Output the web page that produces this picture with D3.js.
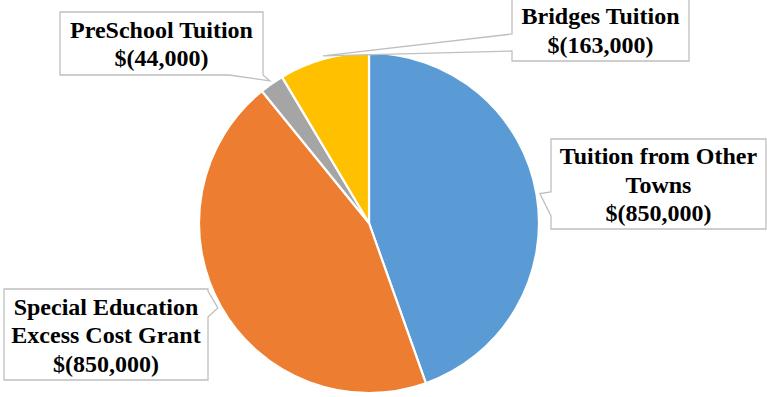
<!DOCTYPE html>
<html>
<head>
<meta charset="utf-8">
<script src="https://cdn.jsdelivr.net/npm/d3@7"></script>
<style>
  html, body { margin: 0; padding: 0; background: #fff; }
  svg { display: block; }
</style>
</head>
<body>
<script>
// ---- data ----
const categories = ["Tuition from Other Towns", "Special Education Excess Cost Grant", "PreSchool Tuition", "Bridges Tuition"];
const values = [850000, 850000, 44000, 163000];
const colors = ["#5B9BD5", "#ED7D31", "#A5A5A5", "#FFC000"];
const labelLines = [["Tuition from Other", "Towns"], ["Special Education", "Excess Cost Grant"], ["PreSchool Tuition"], ["Bridges Tuition"]];

// ---- layout (label callout boxes) ----
const callouts = [
  {x: 551, y: 139, w: 215, h: 90, edge: "left", a: 216, b: 192},
  {x: 4, y: 289, w: 204, h: 91, edge: "right", a: 291, b: 317},
  {x: 60, y: 12, w: 203, h: 63, edge: "bottom", a: 263, b: 229},
  {x: 512, y: -1, w: 177, h: 62, edge: "left", a: 51, b: 34}
];

const W = 767, H = 397;
const cx = 369, cy = 223, R = 170;
const fontSize = 24, lineH = 28.5;

const svg = d3.select("body").append("svg").attr("width", W).attr("height", H);

const data = categories.map((c, i) => ({cat: c, value: values[i], i}));
const pie = d3.pie().sort(null).value(d => d.value);
const arcs = pie(data);
const arc = d3.arc().innerRadius(0).outerRadius(R);
const color = d3.scaleOrdinal().domain(categories).range(colors);

const g = svg.append("g").attr("transform", `translate(${cx},${cy})`);
g.selectAll("path").data(arcs).join("path")
  .attr("d", arc)
  .attr("fill", d => color(d.data.cat))
  .attr("stroke", "#fff")
  .attr("stroke-width", 2.2)
  .attr("stroke-linejoin", "round");

function calloutPath(c, tip) {
  const x0 = c.x, y0 = c.y, x1 = c.x + c.w, y1 = c.y + c.h;
  const p = [[x0, y0], [x1, y0]];
  if (c.edge === "right") p.push([x1, c.a], tip, [x1, c.b]);
  p.push([x1, y1]);
  if (c.edge === "bottom") p.push([c.a, y1], tip, [c.b, y1]);
  p.push([x0, y1]);
  if (c.edge === "left") p.push([x0, c.a], tip, [x0, c.b]);
  return "M" + p.map(q => q.join(",")).join("L") + "Z";
}

const fmt = d3.format(",");
const labels = svg.append("g");
arcs.forEach((d, i) => {
  const c = callouts[i];
  const mid = (d.startAngle + d.endAngle) / 2;
  const rr = R * 1.02;
  const tip = [cx + rr * Math.sin(mid), cy - rr * Math.cos(mid)];
  labels.append("path")
    .attr("d", calloutPath(c, tip))
    .attr("fill", "#fff")
    .attr("stroke", "#BFBFBF")
    .attr("stroke-width", 1.3);
  const lines = labelLines[i].concat(["$(" + fmt(d.data.value) + ")"]);
  const n = lines.length;
  const centerY = c.y + c.h / 2;
  const first = centerY - (n - 1) * lineH / 2 + 8.5;
  const t = labels.append("text")
    .attr("text-anchor", "middle")
    .attr("font-family", "'Liberation Serif', 'Times New Roman', serif")
    .attr("font-weight", "bold")
    .attr("font-size", fontSize)
    .attr("fill", "#000");
  lines.forEach((ln, k) => {
    t.append("tspan").attr("x", c.x + c.w / 2).attr("y", first + k * lineH).text(ln);
  });
});
</script>
</body>
</html>
